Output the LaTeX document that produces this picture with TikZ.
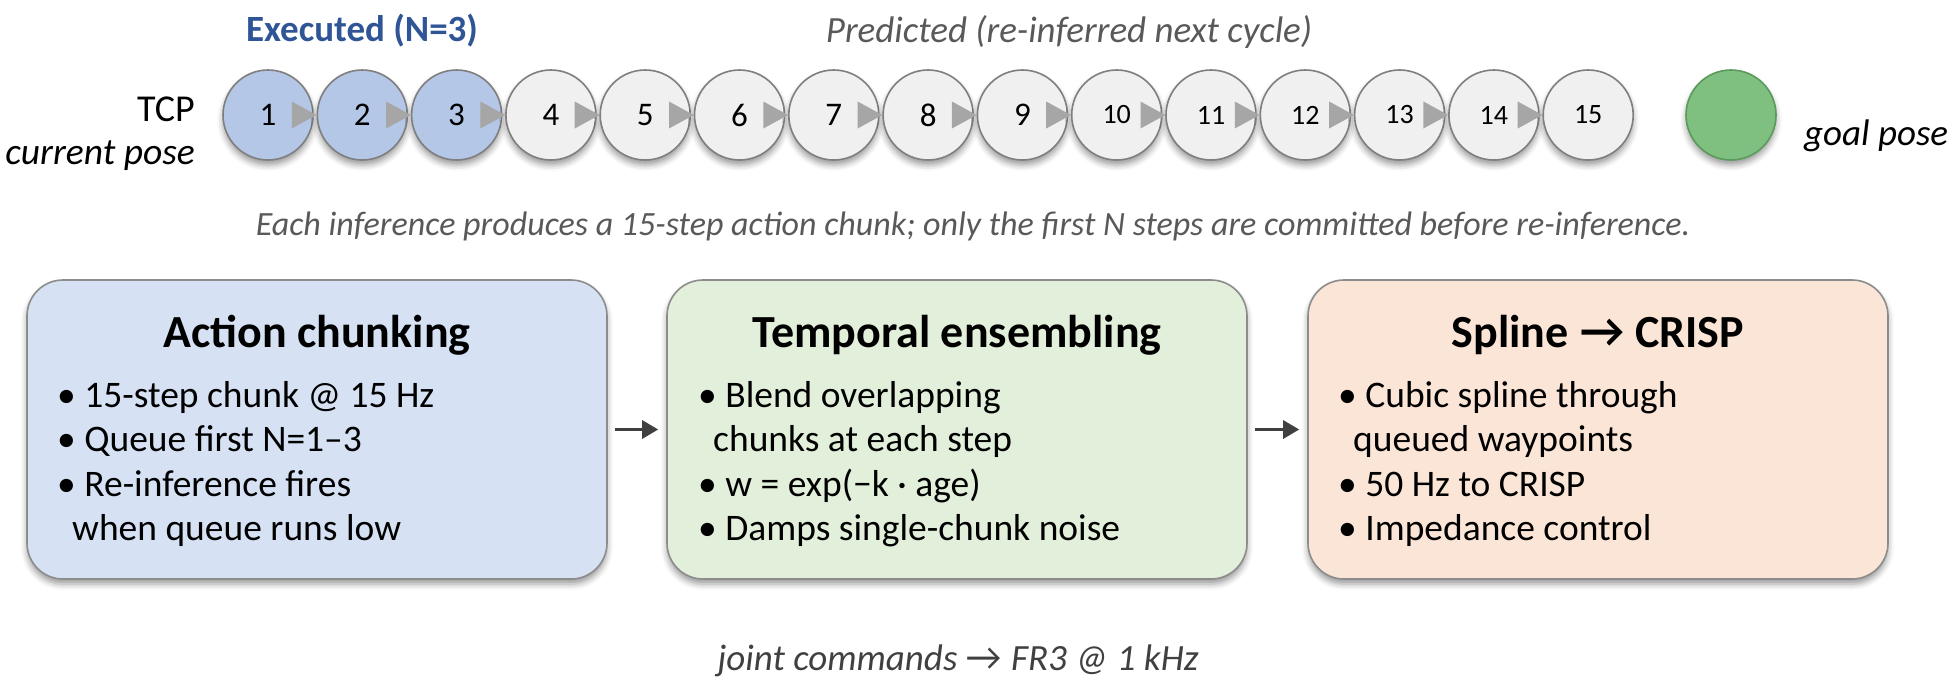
\documentclass[tikz,border=0pt]{standalone}
\usepackage{fontspec}
\setmainfont{Carlito}
\newfontfamily\arrowfont{Lato}
\usetikzlibrary{shadows.blur,arrows.meta,calc}
\definecolor{execfill}{HTML}{B4C7E7}
\definecolor{predfill}{HTML}{F0F0F0}
\definecolor{circedge}{HTML}{7F7F7F}
\definecolor{trigray}{HTML}{A6A6A6}
\definecolor{goalfill}{HTML}{7FBF7F}
\definecolor{goaledge}{HTML}{5A9A5A}
\definecolor{boxA}{HTML}{D6E2F4}
\definecolor{boxB}{HTML}{E2EFDA}
\definecolor{boxC}{HTML}{FBE5D6}
\definecolor{boxedge}{HTML}{8C8C8C}
\definecolor{execblue}{HTML}{2F5597}
\definecolor{capgray}{HTML}{595959}
\definecolor{arrowgray}{HTML}{404040}
\newcommand{\fs}[1]{\fontsize{#1}{#1}\selectfont}
\tikzset{
  softshadow/.style={blur shadow={shadow xshift=0pt, shadow yshift=-5pt, shadow blur radius=6pt, shadow opacity=40}},
  circ/.style={circle, minimum size=90pt, inner sep=0pt, draw=circedge, line width=1.6pt, softshadow, font=\fs{33}},
  execc/.style={circ, fill=execfill},
  predc/.style={circ, fill=predfill},
  goalc/.style={circle, minimum size=90pt, inner sep=0pt, draw=goaledge, line width=1.6pt, fill=goalfill, softshadow},
  tri/.style={fill=trigray},
  stagebox/.style={rounded corners=36pt, draw=boxedge, line width=1.6pt, minimum width=580pt, minimum height=299pt, inner sep=0pt, softshadow},
  boxtitle/.style={font=\bfseries\fs{46}, anchor=base},
  bline/.style={font=\fs{37.5}, anchor=base west, inner sep=0pt},
  flow/.style={draw=arrowgray, line width=3pt, -{Triangle[length=16pt,width=18pt]}, shorten <=7pt, shorten >=8pt},
}
\begin{document}
\begin{tikzpicture}[x=1pt,y=-1pt]
\useasboundingbox (0,0) rectangle (1948,681);
% header labels
\node[font=\bfseries\fs{37}, text=execblue] (exec) at (362,31) {Executed (N=3)};
\node[font=\itshape\fs{37}, text=capgray] (pred) at (1069,32) {Predicted (re-inferred next cycle)};
\node[font=\fs{38}, anchor=base east, inner sep=0pt] (tcp) at (195,121) {TCP};
\node[font=\itshape\fs{37.5}, anchor=base east, inner sep=0pt] (cur) at (195,164) {current pose};
% circles
\foreach \i in {1,2,3} \node[execc] (c\i) at ({268+94.3*(\i-1)},115) {\i};
\foreach \i in {4,...,9} \node[predc] (c\i) at ({268+94.3*(\i-1)},115) {\i};
\foreach \i in {10,...,15} \node[predc, font=\fs{28}] (c\i) at ({268+94.3*(\i-1)},115) {\i};
\foreach \i [evaluate=\i as \j using int(\i+1)] in {1,...,14}
  \fill[tri] ($(c\i.east)+(-22,-13.5)$) -- ($(c\i.east)+(-22,13.5)$) -- (c\j.west) -- cycle;
\node[goalc] (goal) at (1731,115) {};
\node[font=\itshape\fs{37}, anchor=base west, inner sep=0pt] (goallbl) at (1804,145) {goal pose};
% caption
\node[font=\itshape\fs{34}, text=capgray] (cap) at (973,226) {Each inference produces a 15-step action chunk; only the first N steps are committed before re-inference.};
% boxes
\node[stagebox, fill=boxA] (b1) at (317,429.5) {};
\node[stagebox, fill=boxB] (b2) at (957,429.5) {};
\node[stagebox, fill=boxC] (b3) at (1598,429.5) {};
\node[boxtitle] (t1) at (317,347) {Action chunking};
\node[boxtitle] (t2) at (957,347) {Temporal ensembling};
\node[boxtitle] (t3) at (1598,347) {Spline {\arrowfont →} CRISP};
% box 1 text
\node[bline] (a1) at (57,407) {\textbullet\ 15-step chunk @ 15 Hz};
\node[bline] (a2) at (57,451.5) {\textbullet\ Queue first N=1–3};
\node[bline] (a3) at (57,496) {\textbullet\ Re-inference fires};
\node[bline] (a4) at (72,540.5) {when queue runs low};
% box 2 text
\node[bline] (e1) at (698,407) {\textbullet\ Blend overlapping};
\node[bline] (e2) at (713,451.5) {chunks at each step};
\node[bline] (e3) at (698,496) {\textbullet\ w = exp(−k · age)};
\node[bline] (e4) at (698,540.5) {\textbullet\ Damps single-chunk noise};
% box 3 text
\node[bline] (s1) at (1338,407) {\textbullet\ Cubic spline through};
\node[bline] (s2) at (1353,451.5) {queued waypoints};
\node[bline] (s3) at (1338,496) {\textbullet\ 50 Hz to CRISP};
\node[bline] (s4) at (1338,540.5) {\textbullet\ Impedance control};
% arrows
\draw[flow] (b1.east) -- (b2.west);
\draw[flow] (b2.east) -- (b3.west);
% bottom
\node[font=\itshape\fs{37}, text=arrowgray] (joint) at (958,661) {joint commands {\arrowfont\itshape →} FR3 @ 1 kHz};
\end{tikzpicture}
\end{document}
